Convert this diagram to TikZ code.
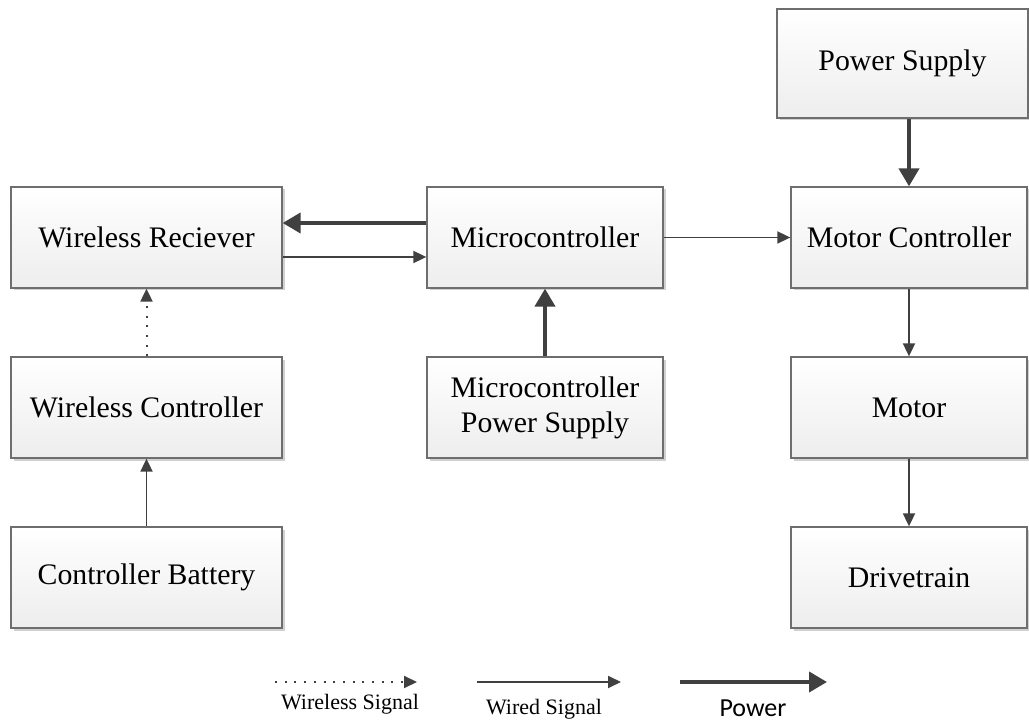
\documentclass[tikz,border=0pt]{standalone}
\usepackage{fontspec}
\setmainfont{Liberation Serif}
\newfontfamily\calib{Carlito}
\usetikzlibrary{arrows.meta,shadows}
\definecolor{arr}{HTML}{404040}
\definecolor{bord}{HTML}{6E6E6E}
\tikzset{
  blk/.style={draw=bord, line width=1.3pt, top color=white, bottom color=black!7,
    inner sep=0pt, align=center, font=\fontsize{29.8}{35}\selectfont,
    drop shadow={shadow xshift=2.5pt, shadow yshift=-2.5pt, fill=black!18, opacity=1}},
  wired/.style={draw=arr, line width=1.8pt, -{Triangle[length=13pt,width=12pt]}},
  power/.style={draw=arr, line width=4pt, -{Triangle[length=18pt,width=20pt]}},
  wless/.style={draw=arr, line width=2pt, dash pattern=on 2pt off 7.7pt, -{Triangle[length=13pt,width=12pt]}},
  lbl/.style={inner sep=0pt, font=\fontsize{22}{26}\selectfont},
}
\begin{document}
\begin{tikzpicture}[x=1pt,y=-1pt]
\useasboundingbox (0,0) rectangle (1029,722);
% boxes
\node[blk, minimum width=271pt, minimum height=101pt] (wr) at (146.5,237.5) {Wireless Reciever};
\node[blk, minimum width=236pt, minimum height=101pt] (mc) at (545,237.5) {Microcontroller};
\node[blk, minimum width=236pt, minimum height=101pt] (moc) at (909,237.5) {Motor Controller};
\node[blk, minimum width=251pt, minimum height=109pt] (ps) at (902.5,63.5) {Power Supply};
\node[blk, minimum width=271pt, minimum height=101pt] (wc) at (146.5,407.5) {Wireless Controller};
\node[blk, minimum width=236pt, minimum height=101pt] (mps) at (545,407.5) {Microcontroller\\Power Supply};
\node[blk, minimum width=236pt, minimum height=101pt] (mot) at (909,407.5) {Motor};
\node[blk, minimum width=271pt, minimum height=101pt] (cb) at (146.5,577.5) {Controller Battery};
\node[blk, minimum width=236pt, minimum height=101pt] (dt) at (909,577.5) {Drivetrain};
% connectors
\draw[power] ([yshift=14.5pt]mc.west) -- ([yshift=14.5pt]wr.east);
\draw[wired] ([yshift=-19.5pt]wr.east) -- ([yshift=-19.5pt]mc.west);
\draw[wired] (mc.east) -- (moc.west);
\draw[power] (ps.south -| moc.north) -- (moc.north);
\draw[power] (mps.north) -- (mc.south);
\draw[wired] (moc.south) -- (mot.north);
\draw[wired] (mot.south) -- (dt.north);
\draw[wired] (cb.north) -- (wc.south);
\draw[wless] (wc.north) -- (wr.south);
% legend
\coordinate (l1a) at (275,682); \coordinate (l1b) at (417,682);
\coordinate (l2a) at (477,682); \coordinate (l2b) at (621,682);
\coordinate (l3a) at (680,682); \coordinate (l3b) at (827,682);
\draw[wless] (l1a) -- (l1b);
\draw[wired] (l2a) -- (l2b);
\draw[power] (l3a) -- (l3b);
\node[lbl] (t1) at (350,704) {Wireless Signal};
\node[lbl] (t2) at (544,709) {Wired Signal};
\node[inner sep=0pt, font=\calib\fontsize{26}{30}\selectfont] (t3) at (753,708) {Power};
\end{tikzpicture}
\end{document}
